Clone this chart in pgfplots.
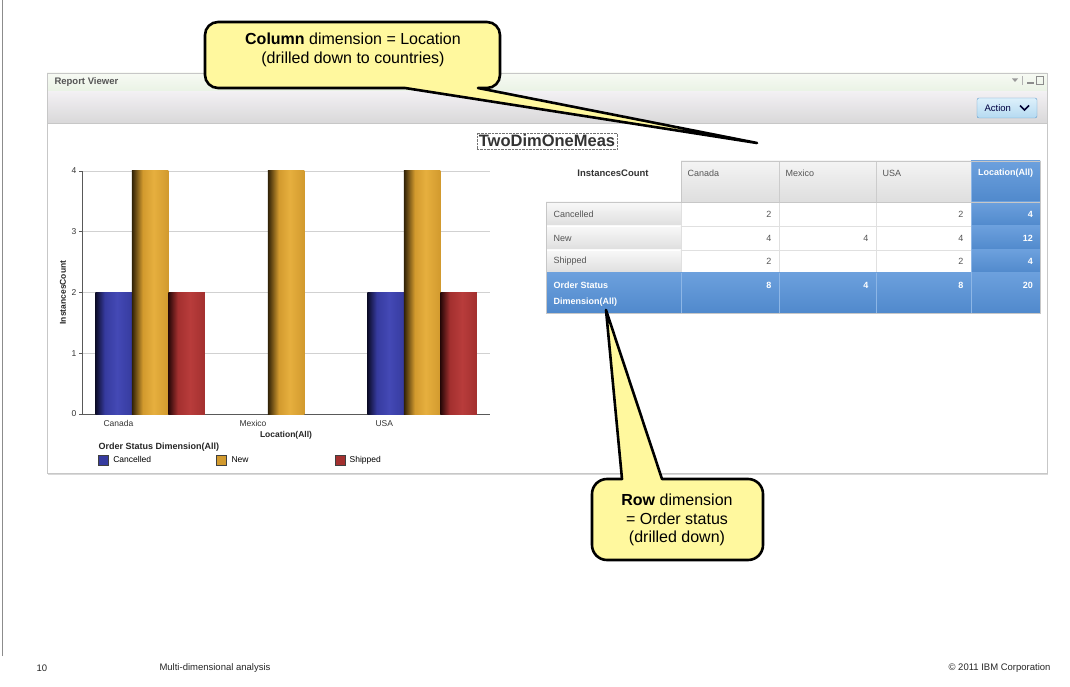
\documentclass[border=0pt]{standalone}
\usepackage{fontspec}
\setmainfont{Liberation Sans}
\usepackage{pgfplots}
\usepackage{pgfplotstable}
\pgfplotsset{compat=1.18}

\definecolor{cdark}{HTML}{0B0B26}
\definecolor{cbase}{HTML}{363B9F}
\definecolor{clight}{HTML}{4449B5}
\definecolor{ndark}{HTML}{2E2006}
\definecolor{nbase}{HTML}{D29A2E}
\definecolor{nlight}{HTML}{E6AF3E}
\definecolor{sdark}{HTML}{260707}
\definecolor{sbase}{HTML}{A3302F}
\definecolor{slight}{HTML}{B83C3B}
\definecolor{rvtop}{HTML}{F7FAF4}
\definecolor{rvbot}{HTML}{E9F2E4}
\definecolor{tbtop}{HTML}{F2F0F3}
\definecolor{tbbot}{HTML}{D9D8D9}
\definecolor{btop}{HTML}{DDF0FB}
\definecolor{bbot}{HTML}{B5DAF1}
\definecolor{bborder}{HTML}{5F9CCB}
\definecolor{tbluetop}{HTML}{6CA0DD}
\definecolor{tblue}{HTML}{5089CC}
\definecolor{tbline}{HTML}{8DB6E6}
\definecolor{hdtop}{HTML}{F4F4F4}
\definecolor{hdbot}{HTML}{DEDEDE}
\definecolor{cellline}{HTML}{E0E0E0}
\definecolor{bubble}{HTML}{FFF89E}
\definecolor{uitext}{HTML}{555555}

\pgfdeclarehorizontalshading{cancshade}{100bp}{color(0bp)=(cdark); color(25bp)=(cdark); color(38bp)=(cbase); color(55bp)=(clight); color(75bp)=(cbase); color(100bp)=(cbase)}
\pgfdeclarehorizontalshading{newshade}{100bp}{color(0bp)=(ndark); color(25bp)=(ndark); color(40bp)=(nbase); color(55bp)=(nlight); color(75bp)=(nbase); color(100bp)=(nbase)}
\pgfdeclarehorizontalshading{shipshade}{100bp}{color(0bp)=(sdark); color(25bp)=(sdark); color(38bp)=(sbase); color(55bp)=(slight); color(75bp)=(sbase); color(100bp)=(sbase)}

\pgfplotsset{
  barbase/.style={ybar, bar width=36.5pt, draw=none, shade, forget plot},
  cancbar/.style={barbase, bar shift=-36.5pt, shading=cancshade},
  newbar/.style={barbase, bar shift=0pt, shading=newshade},
  shipbar/.style={barbase, bar shift=36.5pt, shading=shipshade},
  legsq/.style={legend image code/.code={\draw[##1, draw=black!75, line width=0.7pt] (0pt,-5pt) rectangle (10pt,5pt);}},
}

\pgfplotstableread{
x cancelled new shipped
0 2   4 2
1 nan 4 nan
2 2   4 2
}\chartdata

\begin{document}
\begin{tikzpicture}[x=1pt,y=1pt]
\path[use as bounding box] (0,0) rectangle (1070,686);
% slide left rule
\draw[black!45, line width=0.8pt] (2,30) -- (2,686);

% report viewer panel
\fill[white] (47,213) rectangle (1047,613);
\shade[top color=rvtop, bottom color=rvbot] (47,594) rectangle (1047,613);
\shade[top color=tbtop, bottom color=tbbot] (47,563) rectangle (1047,594);
\draw[black!22] (47,563) -- (1047,563);
\draw[black!15, line width=1.6pt] (48,211.6) -- (1048,211.6);
\draw[black!22, line width=0.8pt] (47,213) rectangle (1047,613);
\node[anchor=west, font=\bfseries\fontsize{9.5}{10}\selectfont, text=uitext] at (51,604) {Report Viewer};
% window icons
\fill[black!40] (1012,607.5) -- (1018,607.5) -- (1015,604) -- cycle;
\draw[black!30] (1022,601) -- (1022,610);
\fill[black!45] (1027,601.5) rectangle (1034,603.5);
\draw[black!45, line width=0.8pt] (1036,601.5) rectangle (1043,609.5);
% action button
\shade[top color=btop, bottom color=bbot, draw=bborder, rounded corners=2pt] (977,568) rectangle (1037,588);
\node[anchor=west, font=\fontsize{9.5}{10}\selectfont, text=black!75!blue] at (981,578) {Action};
\draw[black!80!blue, line width=1.6pt] (1020,580.5) -- (1024.5,576) -- (1029,580.5);

% report title
\node[draw=black!55, densely dotted, inner sep=2pt, font=\bfseries\fontsize{16.5}{18}\selectfont, text=black!80] at (547,545) {TwoDimOneMeas};

% chart
\begin{axis}[
  at={(82pt,272pt)}, anchor=south west,
  scale only axis, width=408pt, height=243pt,
  xmin=-0.5, xmax=2.5, ymin=0, ymax=4,
  axis lines*=left,
  axis line style={draw=black!65, line width=0.8pt},
  xtick={0,1,2}, xticklabels={Canada,Mexico,USA},
  xtick style={draw=none},
  xticklabel style={anchor=north west, xshift=-50pt, font=\fontsize{8.5}{10}\selectfont, text=black!80},
  ytick={0,1,2,3,4},
  ytick style={draw=black!65, line width=0.6pt},
  tick align=outside, major tick length=3pt,
  yticklabel style={font=\fontsize{8.5}{10}\selectfont, text=black!80, xshift=1pt},
  /pgf/number format/assume math mode=true,
  ymajorgrids, grid style={draw=black!18, line width=0.6pt},
  xlabel={Location(All)}, ylabel={InstancesCount},
  label style={font=\bfseries\fontsize{8.5}{10}\selectfont, text=black!85},
  xlabel style={at={(axis description cs:0.5,-0.086)}, anchor=center},
  ylabel style={at={(axis description cs:-0.047,0.5)}, anchor=center},
  legend columns=3,
  legend style={at={(axis description cs:0.039,-0.165)}, anchor=north west,
    draw=none, fill=none, font=\fontsize{8.5}{10}\selectfont,
    inner sep=0pt, /tikz/every even column/.append style={column sep=0pt}},
]
\addplot[cancbar, restrict x to domain=-0.2:0.2] table[x=x,y=cancelled]{\chartdata};
\addplot[cancbar, restrict x to domain=1.8:2.2] table[x=x,y=cancelled]{\chartdata};
\addplot[newbar, restrict x to domain=-0.2:0.2] table[x=x,y=new]{\chartdata};
\addplot[newbar, restrict x to domain=0.8:1.2] table[x=x,y=new]{\chartdata};
\addplot[newbar, restrict x to domain=1.8:2.2] table[x=x,y=new]{\chartdata};
\addplot[shipbar, restrict x to domain=-0.2:0.2] table[x=x,y=shipped]{\chartdata};
\addplot[shipbar, restrict x to domain=1.8:2.2] table[x=x,y=shipped]{\chartdata};
\addlegendimage{legsq, fill=cbase}
\addlegendentry{\makebox[103.5pt][l]{\hspace{2.5pt}Cancelled}}
\addlegendimage{legsq, fill=nbase}
\addlegendentry{\makebox[103.5pt][l]{\hspace{2.5pt}New}}
\addlegendimage{legsq, fill=sbase}
\addlegendentry{\makebox[103.5pt][l]{\hspace{2.5pt}Shipped}}
\end{axis}
\node[anchor=west, font=\bfseries\fontsize{9}{10}\selectfont, text=black!85] at (95,239) {Order Status Dimension(All)};

% ---------- table ----------
% header row
\node[font=\bfseries\fontsize{9.5}{11}\selectfont, text=black!80] at (613,513) {InstancesCount};
\shade[top color=hdtop, bottom color=hdbot] (681,484) rectangle (971,525);
\foreach \xa/\xb/\lab in {681/779/Canada, 779/876/Mexico, 876/971/USA}{
  \draw[black!20] (\xa,484) rectangle (\xb,525);
  \node[anchor=west, font=\fontsize{9}{10}\selectfont, text=uitext] at (\xa+3,513) {\lab};
}
\shade[top color=tbluetop, bottom color=tblue] (971,484) rectangle (1040,525);
\node[font=\bfseries\fontsize{9}{10}\selectfont, text=white] at (1005.5,513) {Location(All)};
% body rows
\foreach \ya/\yb/\lab/\ca/\cb/\cc/\tot in {460/484/Cancelled/2//2/4, 436/460/New/4/4/4/12, 413/436/Shipped/2//2/4}{
  \shade[top color=hdtop!60!white, bottom color=hdbot] (546,\ya) rectangle (681,\yb);
  \draw[white, line width=1pt] (547,\yb-0.5) -- (680,\yb-0.5);
  \node[anchor=west, font=\fontsize{9}{10}\selectfont, text=uitext] at (550,{(\ya+\yb)/2}) {\lab};
  \fill[white] (681,\ya) rectangle (971,\yb);
  \draw[cellline] (681,\ya) rectangle (779,\yb) (779,\ya) rectangle (876,\yb) (876,\ya) rectangle (971,\yb);
  \node[anchor=east, font=\fontsize{9}{10}\selectfont, text=uitext] at (775,{(\ya+\yb)/2}) {\ca};
  \node[anchor=east, font=\fontsize{9}{10}\selectfont, text=uitext] at (872,{(\ya+\yb)/2}) {\cb};
  \node[anchor=east, font=\fontsize{9}{10}\selectfont, text=uitext] at (967,{(\ya+\yb)/2}) {\cc};
  \shade[top color=tbluetop, bottom color=tblue] (971,\ya) rectangle (1040,\yb);
  \draw[tbline] (971,\ya) -- (1040,\ya);
  \node[anchor=east, font=\bfseries\fontsize{9}{10}\selectfont, text=white] at (1036.5,{(\ya+\yb)/2}) {\tot};
}
% total row
\shade[top color=tbluetop, bottom color=tblue] (546,373) rectangle (1040,413);
\foreach \xx in {681,779,876,971}{\draw[tbline] (\xx,373) -- (\xx,413);}
\draw[tbline] (971,413) -- (971,525);
\node[anchor=west, font=\bfseries\fontsize{9}{10}\selectfont, text=white] at (550,401) {Order Status};
\node[anchor=west, font=\bfseries\fontsize{9}{10}\selectfont, text=white] at (550,384) {Dimension(All)};
\foreach \xx/\v in {775/8, 872/4, 967/8, 1036.5/20}{
  \node[anchor=east, font=\bfseries\fontsize{9}{10}\selectfont, text=white] at (\xx,401) {\v};
}
\draw[black!22] (546,373) rectangle (1040,484);
\draw[black!22] (681,484) rectangle (1040,525);

% ---------- callouts ----------
\filldraw[fill=bubble, draw=black, line width=2.6pt, line join=round]
  (405,598) -- (757,543) -- (478,598) [rounded corners=13pt] -- (500,598) -- (500,664) -- (205,664) -- (205,598) [sharp corners] -- cycle;
\node[align=center, font=\fontsize{16}{19}\selectfont] at (353,636.5) {\textbf{Column} dimension = Location\\(drilled down to countries)};

\filldraw[fill=bubble, draw=black, line width=2.6pt, line join=round]
  (662,207) -- (606,376) -- (622,207) [rounded corners=15pt] -- (592,207) -- (592,126) -- (763,126) -- (763,207) [sharp corners] -- cycle;
\node[align=center, font=\fontsize{16}{18.5}\selectfont] at (677,166) {\textbf{Row} dimension\\= Order status\\(drilled down)};

% ---------- footer ----------
\node[anchor=west, font=\fontsize{9.5}{11}\selectfont, text=black!85] at (33,18) {10};
\node[anchor=west, font=\fontsize{9.5}{11}\selectfont, text=black!85] at (156,18) {Multi-dimensional analysis};
\node[anchor=east, font=\fontsize{9.5}{11}\selectfont, text=black!85] at (1054,18) {© 2011 IBM Corporation};
\end{tikzpicture}
\end{document}
